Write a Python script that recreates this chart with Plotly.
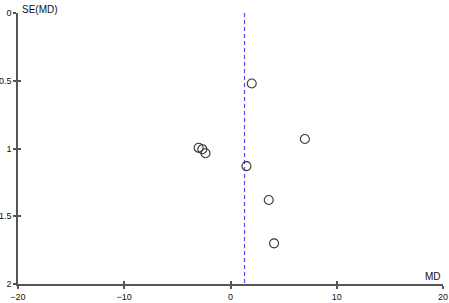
import plotly.graph_objects as go

md = [2.0, 7.0, -3.0, -2.65, -2.35, 1.5, 3.6, 4.1]
se = [0.52, 0.93, 0.995, 1.005, 1.035, 1.13, 1.38, 1.70]
pooled_md = 1.32
x_ticks = [-20, -10, 0, 10, 20]
y_ticks = [0, 0.5, 1, 1.5, 2]
y_labels = ["0", "0.5", "1", "1.5", "2"]

font = "Liberation Sans, Arial, sans-serif"
axcol = "#555555"

fig = go.Figure()
fig.add_trace(go.Scatter(
    x=[pooled_md, pooled_md], y=[0, 2], mode="lines",
    line=dict(color="#4a4aff", width=1.2, dash="4px,3px"),
    hoverinfo="skip", showlegend=False))
fig.add_trace(go.Scatter(
    x=md, y=se, mode="markers",
    marker=dict(symbol="circle-open", size=9, color="#333333", line=dict(width=1.1)),
    showlegend=False))

common = dict(showgrid=False, zeroline=False, fixedrange=True, automargin=False,
              tickcolor=axcol, tickwidth=1.5, ticklen=3)

fig.update_layout(
    width=449, height=303,
    margin=dict(l=18, r=6, t=13, b=19, autoexpand=False),
    paper_bgcolor="white", plot_bgcolor="white",
    font=dict(family=font, size=9, color="#111111"),
    xaxis=dict(range=[-20, 20], tickvals=x_ticks, showline=True, linecolor=axcol,
               linewidth=1.5, ticks="outside", tickfont=dict(size=9), **common),
    yaxis=dict(range=[2, 0], tickvals=y_ticks, ticktext=y_labels, showline=True,
               linecolor=axcol, linewidth=1.5, ticks="outside",
               tickfont=dict(size=9), **common),
    xaxis2=dict(range=[-20, 20], tickvals=x_ticks, overlaying="x", side="bottom",
                anchor="y", ticks="inside", showticklabels=False, showline=False,
                **common),
    yaxis2=dict(range=[2, 0], tickvals=y_ticks, overlaying="y", side="left",
                anchor="x", ticks="inside", showticklabels=False, showline=False,
                **common),
    annotations=[
        dict(text="SE(MD)", xref="paper", yref="paper", x=0, y=1, xanchor="left",
             yanchor="bottom", xshift=2, yshift=-4, showarrow=False, font=dict(size=10)),
        dict(text="MD", xref="paper", yref="paper", x=1, y=0, xanchor="right",
             yanchor="bottom", showarrow=False, font=dict(size=10)),
    ],
)
# invisible helper trace so the inside-tick axes are drawn
fig.add_trace(go.Scatter(x=[pooled_md], y=[0], xaxis="x2", yaxis="y2", mode="markers",
                         marker=dict(opacity=0), hoverinfo="skip", showlegend=False))

fig.write_html("out.html", config={"displayModeBar": False},
               post_script="document.body.style.margin='0px';document.body.style.overflow='hidden';")
